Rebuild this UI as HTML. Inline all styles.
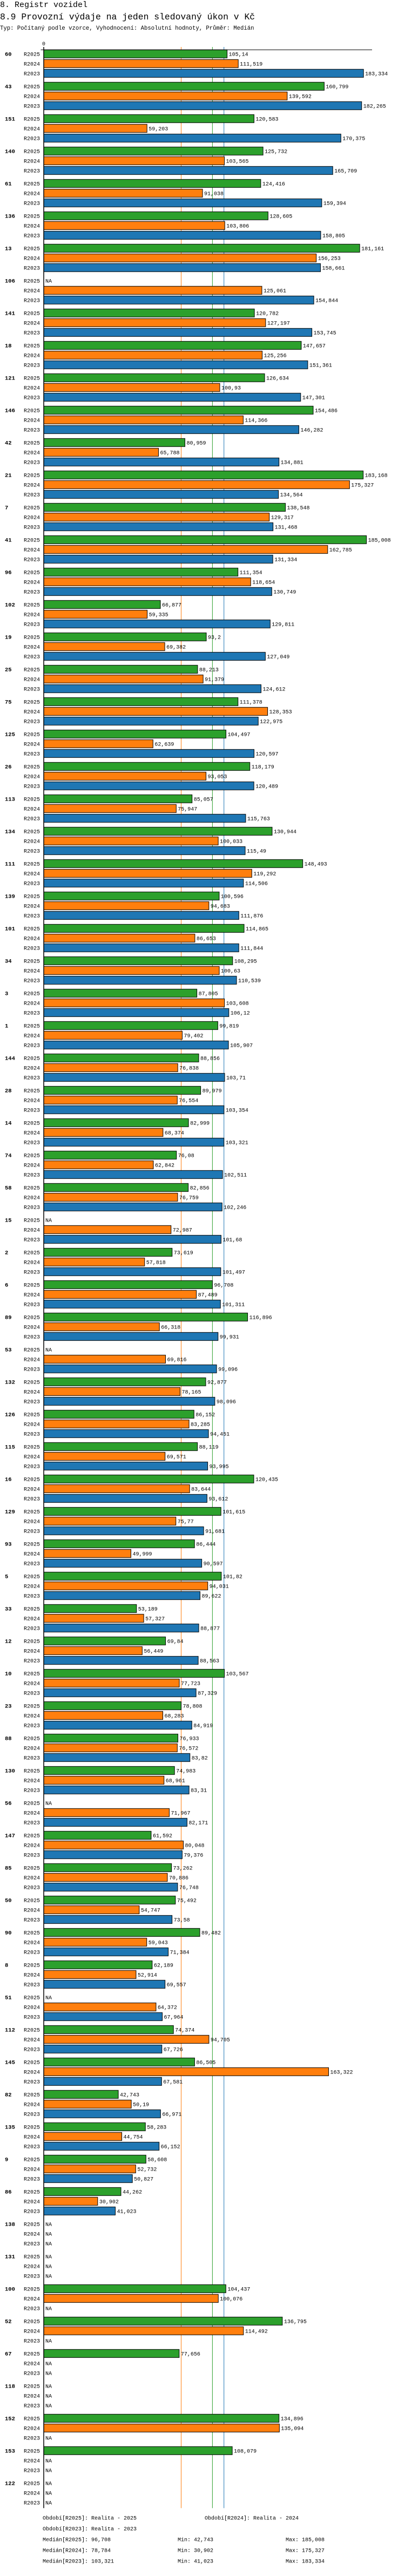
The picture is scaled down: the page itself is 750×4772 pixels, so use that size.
<!DOCTYPE html>
<html><head><meta charset="utf-8"><style>
html,body{margin:0;padding:0;background:#fff;}
svg{display:block;}
text{font-family:"Liberation Mono",monospace;fill:#000;}
</style></head><body>
<svg id="chart" width="750" height="4772" viewBox="0 0 750 4772" xmlns="http://www.w3.org/2000/svg">
<text x="0" y="13" font-size="15">8. Registr vozidel</text>
<text x="0" y="36" font-size="16.4">8.9 Provozní výdaje na jeden sledovaný úkon v Kč</text>
<text x="0" y="55" font-size="10.6">Typ: Počítaný podle vzorce, Vyhodnocení: Absolutní hodnoty, Průměr: Medián</text>
<g id="plot"></g>
</svg>
<script>
const categories = ["60","43","151","140","61","136","13","106","141","18","121","146","42","21","7","41","96","102","19","25","75","125","26","113","134","111","139","101","34","3","1","144","28","14","74","58","15","2","6","89","53","132","126","115","16","129","93","5","33","12","10","23","88","130","56","147","85","50","90","8","51","112","145","82","135","9","86","138","131","100","52","67","118","152","153","122"];
const seriesNames = ["R2025","R2024","R2023"];
const r2025 = [105.14,160.799,120.583,125.732,124.416,128.605,181.161,null,120.782,147.657,126.634,154.486,80.959,183.168,138.548,185.008,111.354,66.877,93.2,88.213,111.378,104.497,118.179,85.057,130.944,148.493,100.596,114.865,108.295,87.805,99.819,88.856,89.979,82.999,76.08,82.856,null,73.619,96.708,116.896,null,92.877,86.152,88.119,120.435,101.615,86.444,101.82,53.189,69.84,103.567,78.808,76.933,74.983,null,61.592,73.262,75.492,89.482,62.189,null,74.374,86.505,42.743,58.283,58.608,44.262,null,null,104.437,136.795,77.656,null,134.896,108.079,null];
const r2024 = [111.519,139.592,59.203,103.565,91.038,103.806,156.253,125.061,127.197,125.256,100.93,114.366,65.788,175.327,129.317,162.785,118.654,59.335,69.382,91.379,128.353,62.639,93.053,75.947,100.033,119.292,94.683,86.653,100.63,103.608,79.402,76.838,76.554,68.374,62.842,76.759,72.987,57.818,87.489,66.318,69.816,78.165,83.285,69.571,83.644,75.77,49.999,94.031,57.327,56.449,77.723,68.283,76.572,68.961,71.967,80.048,70.886,54.747,59.043,52.914,64.372,94.705,163.322,50.19,44.754,52.732,30.902,null,null,100.076,114.492,null,null,135.094,null,null];
const r2023 = [183.334,182.265,170.375,165.709,159.394,158.805,158.661,154.844,153.745,151.361,147.301,146.282,134.881,134.564,131.468,131.334,130.749,129.811,127.049,124.612,122.975,120.597,120.489,115.763,115.49,114.506,111.876,111.844,110.539,106.12,105.907,103.71,103.354,103.321,102.511,102.246,101.68,101.497,101.311,99.931,99.096,98.096,94.451,93.995,93.612,91.681,90.597,89.622,88.877,88.563,87.329,84.919,83.82,83.31,82.171,79.376,76.748,73.58,71.384,69.557,67.964,67.726,67.581,66.971,66.152,50.827,41.023,null,null,null,null,null,null,null,null,null];
const medians = [96.708, 78.784, 103.321];
const mins = ["42,743","30,902","41,023"];
const maxs = ["185,008","175,327","183,334"];
const medianLabels = ["96,708","78,784","103,321"];

const NS = "http://www.w3.org/2000/svg";
const plot = document.getElementById("plot");
const X0 = 81, PXU = 3.23, TOP = 92.3, ROW = 18, GROUP = 60, BARH = 15;
const colors = ["#2ca02c","#ff7f0e","#1f77b4"];
const xs = v => X0 + v * PXU;
const rowTop = (g, s) => TOP + g * GROUP + s * ROW;
const axisBottom = rowTop(categories.length - 1, 2) + BARH + 3;
function mk(tag, attrs, parent) {
  const e = document.createElementNS(NS, tag);
  for (const k in attrs) e.setAttribute(k, attrs[k]);
  (parent || plot).appendChild(e);
  return e;
}
const fmt = v => String(v).replace(".", ",");
const series = [r2025, r2024, r2023];

// median lines
const medOrder = [1, 0, 2];
medOrder.forEach(i => {
  const l = mk("line", {x1: xs(medians[i]), x2: xs(medians[i]), y1: 87, y2: axisBottom, stroke: colors[i], "stroke-width": 1});
  
  
});

// bars
categories.forEach((c, g) => {
  const gl = mk("text", {x: 9, y: rowTop(g, 0) + 11, "font-size": 10.5, "font-weight": "bold"});
  gl.textContent = c;
  
  
  for (let s = 0; s < 3; s++) {
    const y = rowTop(g, s);
    const sl = mk("text", {x: 74, y: y + 11, "font-size": 10, "text-anchor": "end"});
    sl.textContent = seriesNames[s];
    
    
    const v = series[s][g];
    if (v === null) {
      const na = mk("text", {x: 84, y: y + 11, "font-size": 10});
      na.textContent = "NA";
      
      
    } else {
      const r = mk("rect", {x: X0, y: y, width: xs(v) - X0, height: BARH, fill: colors[s], stroke: "#000", "stroke-width": 1});
      
      
      const t = mk("text", {x: xs(v) + 3, y: y + 11, "font-size": 10});
      t.textContent = fmt(v);
      
      
    }
  }
});

// axes
const ya = mk("line", {x1: X0, x2: X0, y1: 87, y2: axisBottom, stroke: "#000", "stroke-width": 1.5});


const xa = mk("line", {x1: 75.5, x2: 689, y1: TOP, y2: TOP, stroke: "#000", "stroke-width": 1});


const z = mk("text", {x: X0, y: 84, "font-size": 10, "text-anchor": "middle"});
z.textContent = "0";



// footer
const fy = axisBottom + 21;
const footer = [
  [79, fy, "Období[R2025]: Realita - 2025"],
  [379, fy, "Období[R2024]: Realita - 2024"],
  [79, fy + 20, "Období[R2023]: Realita - 2023"]
];
for (let i = 0; i < 3; i++) {
  footer.push([79, fy + 40 + i * 20, "Medián[" + seriesNames[i] + "]: " + medianLabels[i]]);
  footer.push([329, fy + 40 + i * 20, "Min: " + mins[i]]);
  footer.push([529, fy + 40 + i * 20, "Max: " + maxs[i]]);
}
footer.forEach(f => {
  const t = mk("text", {x: f[0], y: f[1], "font-size": 10});
  t.textContent = f[2];
  
  
});
</script>
</body></html>
